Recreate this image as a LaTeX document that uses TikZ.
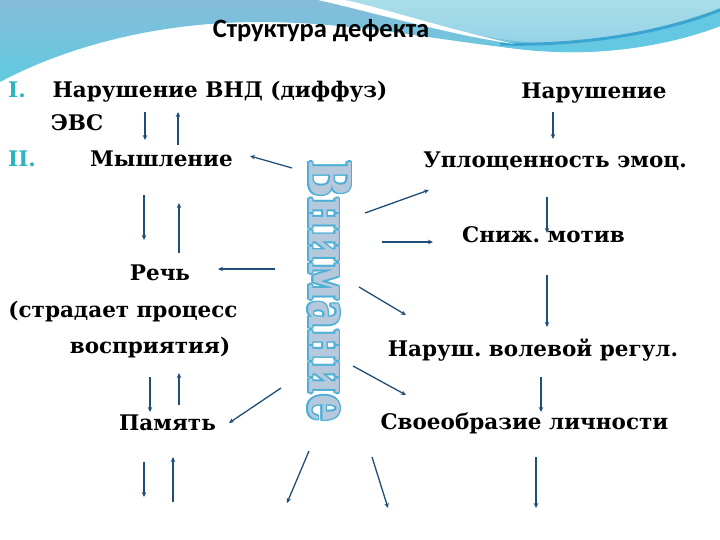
\documentclass[tikz,border=0pt]{standalone}
\usepackage{fontspec}
\usepackage{graphicx}
\setmainfont{DejaVu Serif}
\newfontfamily\titlefont{Carlito}
\usetikzlibrary{arrows.meta}
\frenchspacing
\definecolor{arr}{RGB}{31,78,121}
\definecolor{numc}{RGB}{46,180,190}
\definecolor{vout}{RGB}{75,175,214}
\definecolor{vfill}{RGB}{182,200,220}
\definecolor{bgA}{RGB}{134,188,218}
\definecolor{bgB}{RGB}{96,203,224}
\definecolor{cyanA}{RGB}{168,222,231}
\definecolor{cyanB}{RGB}{150,210,232}
\definecolor{swA}{RGB}{58,165,208}
\definecolor{swB}{RGB}{100,200,226}
\newcommand\vnimtext{\resizebox{262pt}{42pt}{\bfseries Внимание}}
\begin{document}
\begin{tikzpicture}[x=1pt,y=-1pt,
  lbl/.style={anchor=base, inner sep=0pt, font=\fontsize{21.5}{26}\selectfont\bfseries},
  num/.style={anchor=base west, inner sep=0pt, text=numc, font=\fontsize{21.5}{26}\selectfont\bfseries},
  conn/.style={draw=arr, line width=1.3pt, -{Stealth[length=5pt,width=4.5pt]}},
  vtxt/.style={rotate=-90, anchor=base west, inner sep=0pt}]
\useasboundingbox (0,0) rectangle (720,540);
\fill[white] (0,0) rectangle (720,540);
% background top
\shade[top color=bgA, bottom color=bgB]
  (0,0) -- (720,0) -- (720,26) .. controls (690,38) and (630,54) .. (560,52)
  .. controls (470,48) and (370,22) .. (260,22)
  .. controls (150,22) and (60,50) .. (0,82) -- cycle;
\fill[swB] (470,40) .. controls (500,46) and (530,46) .. (560,45)
  .. controls (640,40) and (690,22) .. (720,8) -- (720,26)
  .. controls (690,38) and (630,54) .. (560,52) .. controls (520,51) and (495,46) .. (470,40) -- cycle;
\shade[top color=cyanA, bottom color=cyanB]
  (335,0) -- (720,0) -- (720,8) .. controls (670,28) and (600,42) .. (540,43)
  .. controls (460,38) and (390,14) .. (335,0) -- cycle;
\draw[swA, line width=3pt] (500,44) .. controls (560,46) and (650,38) .. (720,10);
\fill[white] (318,0) .. controls (380,14) and (450,35) .. (515,44)
  .. controls (450,30) and (390,10) .. (345,0) -- cycle;
% title
\node[anchor=base, inner sep=0pt, font=\titlefont\bfseries\fontsize{26.5}{30}\selectfont] (title) at (321,38) {Структура дефекта};
% texts
\node[num] (r1) at (8,98) {I.};
\node[num] (r2) at (8,167) {II.};
\node[lbl] (n1) at (220,98) {Нарушение ВНД (диффуз)};
\node[lbl] (evs) at (77,131) {ЭВС};
\node[lbl] (mysh) at (161.5,167) {Мышление};
\node[lbl] (nar) at (594,99) {Нарушение};
\node[lbl] (upl) at (555,168) {Уплощенность эмоц.};
\node[lbl] (sn) at (543.5,243) {Сниж. мотив};
\node[lbl] (rech) at (160,280) {Речь};
\node[lbl] (strad) at (123,317) {(страдает процесс};
\node[lbl] (vosp) at (150,353) {восприятия)};
\node[lbl] (vol) at (533,356) {Наруш. волевой регул.};
\node[lbl] (svo) at (524.5,429) {Своеобразие личности};
\node[lbl] (pam) at (167.5,430) {Память};
% vertical word
\foreach \dx/\dy in {-1.6/0,1.6/0,0/-1.6,0/1.6,-1.1/-1.1,1.1/1.1,-1.1/1.1,1.1/-1.1}
  \node[vtxt, text=vout] at (309+\dx,160+\dy) {\vnimtext};
\node[vtxt, text=vfill] (vn) at (309,160) {\vnimtext};
% arrow ends
\coordinate (a1s) at (145,112); \coordinate (a1e) at (145,140);
\coordinate (a2s) at (178,145); \coordinate (a2e) at (178,112);
\coordinate (a3s) at (292,168); \coordinate (a3e) at (250,156);
\coordinate (a4s) at (553,112); \coordinate (a4e) at (553,139);
\coordinate (a5s) at (365,213); \coordinate (a5e) at (429,190);
\coordinate (a6s) at (547,197); \coordinate (a6e) at (547,233);
\coordinate (a7s) at (382,242); \coordinate (a7e) at (433,242);
\coordinate (a8s) at (144,195); \coordinate (a8e) at (144,240);
\coordinate (a9s) at (179,253); \coordinate (a9e) at (179,203);
\coordinate (a10s) at (275,269); \coordinate (a10e) at (218,269);
\coordinate (a11s) at (547,275); \coordinate (a11e) at (547,327);
\coordinate (a12s) at (359,287); \coordinate (a12e) at (406,315);
\coordinate (a13s) at (353,366); \coordinate (a13e) at (406,395);
\coordinate (a14s) at (541,377); \coordinate (a14e) at (541,412);
\coordinate (a15s) at (150,377); \coordinate (a15e) at (150,412);
\coordinate (a16s) at (179,405); \coordinate (a16e) at (179,373);
\coordinate (a17s) at (281,388); \coordinate (a17e) at (229,423);
\coordinate (a18s) at (144,462); \coordinate (a18e) at (144,497);
\coordinate (a19s) at (173,502); \coordinate (a19e) at (173,457);
\coordinate (a20s) at (309,451); \coordinate (a20e) at (287,503);
\coordinate (a21s) at (372,457); \coordinate (a21e) at (388,508);
\coordinate (a22s) at (536,457); \coordinate (a22e) at (536,508);
\foreach \i in {1,...,22} \draw[conn] (a\i s) -- (a\i e);
\end{tikzpicture}
\end{document}
